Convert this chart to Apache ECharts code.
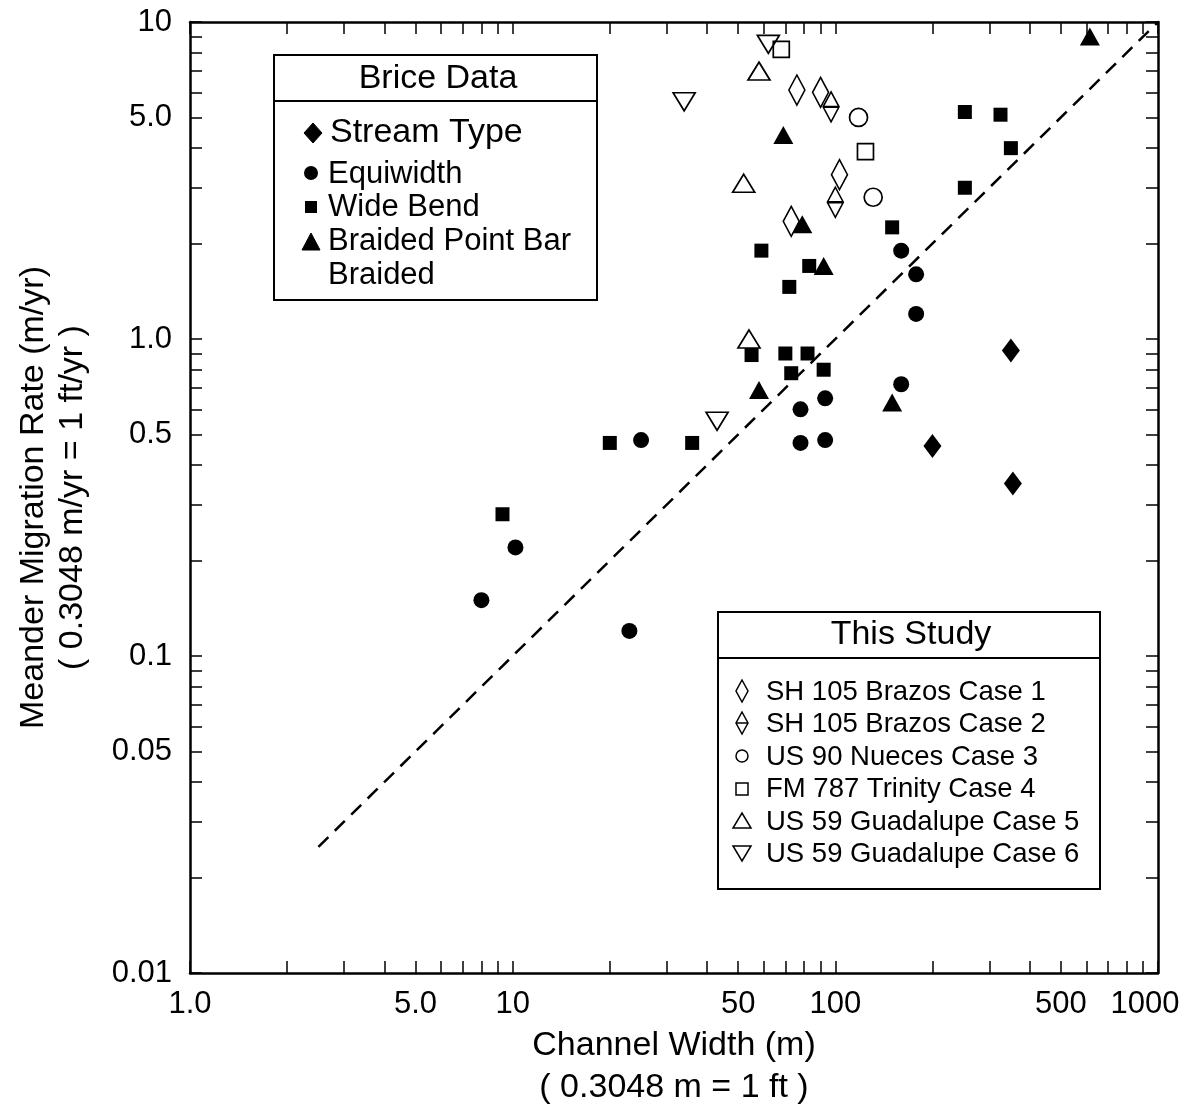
<!DOCTYPE html>
<html><head><meta charset="utf-8">
<script src="https://cdn.jsdelivr.net/npm/echarts@6/dist/echarts.min.js"></script>
<style>html,body{margin:0;padding:0;background:#fff}#c{width:1193px;height:1118px}</style>
</head><body><div id="c"></div>
<script>
// ---- tick / label values ----
const xLabelValues = [1, 5, 10, 50, 100, 500, 1000];
const xLabelTexts = ['1.0', '5.0', '10', '50', '100', '500', '1000'];
const yLabelValues = [0.01, 0.05, 0.1, 0.5, 1, 5, 10];
const yLabelTexts = ['0.01', '0.05', '0.1', '0.5', '1.0', '5.0', '10'];
const xTickValues = [1,2,3,4,5,6,7,8,9,10,20,30,40,50,60,70,80,90,100,200,300,400,500,600,700,800,900,1000];
const yTickValues = [0.01,0.02,0.03,0.04,0.05,0.06,0.07,0.08,0.09,0.1,0.2,0.3,0.4,0.5,0.6,0.7,0.8,0.9,1,2,3,4,5,6,7,8,9,10];

// ---- data: [channel width (m), migration rate (m/yr)] ----
const streamType = [[350,0.92],[200,0.46],[355,0.35]];
const equiwidth = [[8,0.15],[10.2,0.22],[23,0.12],[25,0.48],[78,0.60],[93,0.65],[78,0.47],[93,0.48],[160,0.72],[160,1.9],[178,1.6],[178,1.2]];
const wideBend = [[9.3,0.28],[20,0.47],[36,0.47],[55,0.89],[70,0.9],[82,0.9],[73,0.78],[92,0.80],[59,1.9],[72,1.46],[83,1.7],[150,2.25],[252,5.2],[325,5.1],[350,4.0],[252,3.0]];
const braidedPointBar = [[58,0.69],[69,4.4],[79,2.3],[92,1.7],[150,0.63],[615,9.0]];
const case1 = [[76,6.1],[90,6.0],[103,3.3],[73,2.35]];
const case2 = [[97,5.4],[100,2.7]];
const case3 = [[118,5.0],[131,2.8]];
const case4 = [[68,8.2],[124,3.9]];
const case5 = [[58,7.0],[52,3.1],[54,1.0]];
const case6 = [[34,5.6],[62,8.5],[43,0.55]];
const trendLine = [[2.5,0.025],[1000,10]];

const FONT = '"Liberation Sans", Arial, Helvetica, sans-serif';
const INK = '#000';

const chart = echarts.init(document.getElementById('c'), null, {renderer: 'canvas'});

function xLab(v){ const i = xLabelValues.findIndex(a => Math.abs(a - v) / v < 1e-6); return i < 0 ? '' : xLabelTexts[i]; }
function yLab(v){ const i = yLabelValues.findIndex(a => Math.abs(a - v) / v < 1e-6); return i < 0 ? '' : yLabelTexts[i]; }

const axisLineStyle = {show: true, lineStyle: {color: INK, width: 2.5}};
const tickStyle = {show: true, inside: true, length: 12, lineStyle: {color: INK, width: 1.5}};

const openStyle = {color: 'rgba(0,0,0,0)', borderColor: INK, borderWidth: 1.7, opacity: 1};
const fillStyle = {color: INK, opacity: 1};

const diamondLine = 'path://M0,-15 L8,0 L0,15 L-8,0 Z M-8,0 L8,0';
const downTri = 'path://M-11,-9 L11,-9 L0,9 Z';

function sc(name, data, symbol, size, style){
  return {type: 'scatter', name, data, symbol, symbolSize: size, itemStyle: style, silent: true, z: 5};
}

// ---- legend graphics ----
function txt(x, y, s, size, align){
  return {type: 'text', x, y, z: 100, style: {text: s, fontSize: size, fontFamily: FONT, fill: INK, align: align || 'left', verticalAlign: 'middle'}};
}
function poly(points, fill){
  return {type: 'polygon', z: 100, shape: {points}, style: {fill: fill ? INK : 'none', stroke: INK, lineWidth: fill ? 1 : 1.5}};
}
const graphics = [
  // Brice Data box
  {type: 'rect', z: 99, shape: {x: 274, y: 55, width: 323, height: 245}, style: {fill: '#fff', stroke: INK, lineWidth: 2}},
  {type: 'line', z: 100, shape: {x1: 274, y1: 101, x2: 597, y2: 101}, style: {stroke: INK, lineWidth: 2}},
  txt(438, 79, 'Brice Data', 34, 'center'),
  poly([[313,123],[322,133],[313,143],[304,133]], true),
  txt(330, 133, 'Stream Type', 34),
  {type: 'circle', z: 100, shape: {cx: 311, cy: 173, r: 7}, style: {fill: INK}},
  txt(328, 174, 'Equiwidth', 31),
  {type: 'rect', z: 100, shape: {x: 305, y: 201, width: 12, height: 12}, style: {fill: INK}},
  txt(328, 207, 'Wide Bend', 31),
  poly([[302,250],[320,250],[311,233]], true),
  txt(328, 241, 'Braided Point Bar', 31),
  txt(328, 275, 'Braided', 31),

  // This Study box
  {type: 'rect', z: 99, shape: {x: 718, y: 612, width: 382, height: 277}, style: {fill: '#fff', stroke: INK, lineWidth: 2}},
  {type: 'line', z: 100, shape: {x1: 718, y1: 658, x2: 1100, y2: 658}, style: {stroke: INK, lineWidth: 2}},
  txt(911, 635, 'This Study', 34, 'center'),
  poly([[742,680],[748,691],[742,702],[736,691]], false),
  txt(766, 692, 'SH 105 Brazos Case 1', 27.5),
  poly([[742,712],[748,723],[742,734],[736,723]], false),
  {type: 'line', z: 100, shape: {x1: 736, y1: 723, x2: 748, y2: 723}, style: {stroke: INK, lineWidth: 1.5}},
  txt(766, 724, 'SH 105 Brazos Case 2', 27.5),
  {type: 'circle', z: 100, shape: {cx: 742, cy: 756, r: 6}, style: {fill: 'none', stroke: INK, lineWidth: 1.5}},
  txt(766, 757, 'US 90 Nueces Case 3', 27.5),
  {type: 'rect', z: 100, shape: {x: 736, y: 783, width: 12, height: 12}, style: {fill: 'none', stroke: INK, lineWidth: 1.5}},
  txt(766, 789, 'FM 787 Trinity Case 4', 27.5),
  poly([[733,828],[751,828],[742,813]], false),
  txt(766, 822, 'US 59 Guadalupe Case 5', 27.5),
  poly([[733,846],[751,846],[742,861]], false),
  txt(766, 854, 'US 59 Guadalupe Case 6', 27.5)
];

const option = {
  backgroundColor: '#fff',
  animation: false,
  grid: {left: 190, right: 35, top: 22, bottom: 145, containLabel: false},
  xAxis: [
    {type: 'log', logBase: 10, min: 1, max: 1000, position: 'bottom',
     name: 'Channel Width (m)\n( 0.3048 m = 1 ft )', nameLocation: 'middle', nameGap: 51,
     nameTextStyle: {fontSize: 34, fontFamily: FONT, color: INK, lineHeight: 42},
     axisLine: axisLineStyle,
     axisTick: Object.assign({customValues: xTickValues}, tickStyle),
     axisLabel: {customValues: xLabelValues, margin: 16, fontSize: 31, fontFamily: FONT, color: INK,
       formatter: v => xLab(v) === '1000' ? '{r|1000}' : xLab(v),
       rich: {r: {fontSize: 31, fontFamily: FONT, color: INK, padding: [0, 26, 0, 0]}}},
     splitLine: {show: false}, minorTick: {show: false}, minorSplitLine: {show: false}},
    {type: 'log', logBase: 10, min: 1, max: 1000, position: 'top',
     axisLine: axisLineStyle,
     axisTick: Object.assign({customValues: xTickValues}, tickStyle),
     axisLabel: {show: false}, splitLine: {show: false}}
  ],
  yAxis: [
    {type: 'log', logBase: 10, min: 0.01, max: 10, position: 'left',
     name: 'Meander Migration Rate (m/yr)\n( 0.3048 m/yr = 1 ft/yr )', nameLocation: 'middle', nameGap: 98,
     nameTextStyle: {fontSize: 34, fontFamily: FONT, color: INK, lineHeight: 39},
     axisLine: axisLineStyle,
     axisTick: Object.assign({customValues: yTickValues}, tickStyle),
     axisLabel: {customValues: yLabelValues, margin: 18, fontSize: 31, fontFamily: FONT, color: INK, formatter: v => yLab(v)},
     splitLine: {show: false}},
    {type: 'log', logBase: 10, min: 0.01, max: 10, position: 'right',
     axisLine: axisLineStyle,
     axisTick: Object.assign({customValues: yTickValues}, tickStyle),
     axisLabel: {show: false}, splitLine: {show: false}}
  ],
  series: [
    {type: 'line', name: 'trend', data: trendLine, symbol: 'none', silent: true, z: 3,
     lineStyle: {color: INK, width: 2.5, type: [14, 9]}},
    sc('Stream Type', streamType, 'diamond', [18, 24], fillStyle),
    sc('Equiwidth', equiwidth, 'circle', 16, fillStyle),
    sc('Wide Bend', wideBend, 'rect', 14, fillStyle),
    sc('Braided Point Bar', braidedPointBar, 'triangle', [20, 18], fillStyle),
    sc('SH 105 Brazos Case 1', case1, 'diamond', [16, 30], openStyle),
    sc('SH 105 Brazos Case 2', case2, diamondLine, [16, 30], openStyle),
    sc('US 90 Nueces Case 3', case3, 'circle', 18, openStyle),
    sc('FM 787 Trinity Case 4', case4, 'rect', 16, openStyle),
    sc('US 59 Guadalupe Case 5', case5, 'triangle', [22, 18], openStyle),
    sc('US 59 Guadalupe Case 6', case6, downTri, [22, 18], openStyle)
  ],
  graphic: graphics
};
chart.setOption(option);
</script>
</body></html>
